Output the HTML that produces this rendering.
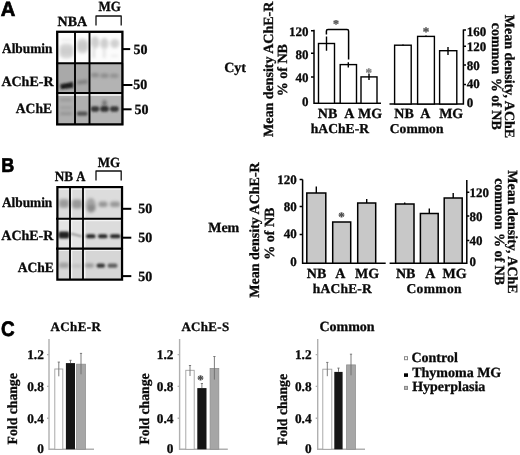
<!DOCTYPE html>
<html><head><meta charset="utf-8">
<style>
html,body{margin:0;padding:0;background:#fff;width:520px;height:455px;overflow:hidden}
svg{display:block;filter:blur(0.3px)}
text{font-family:"Liberation Serif",serif;font-weight:bold;fill:#0a0a0a;stroke:#0a0a0a;stroke-width:0.3px;text-rendering:geometricPrecision}
text.sans{font-family:"Liberation Sans",sans-serif;font-weight:bold;stroke:#000;stroke-width:0.7px;fill:#000}
.ax{stroke:#000;stroke-width:1.5;fill:none}
.bar{stroke:#000;stroke-width:1.4;fill:#fff}
.gbar{stroke:#000;stroke-width:1.5;fill:#c8c8c8}
.eb{stroke:#000;stroke-width:1.4}
.cax{stroke:#b0b0b0;stroke-width:1.4;fill:none}
</style></head><body>
<svg width="520" height="455" viewBox="0 0 520 455">
<defs>
<filter id="b1" x="-50%" y="-50%" width="200%" height="200%"><feGaussianBlur stdDeviation="1"/></filter>
<filter id="b15" x="-50%" y="-50%" width="200%" height="200%"><feGaussianBlur stdDeviation="1.4"/></filter>
<filter id="b2" x="-50%" y="-50%" width="200%" height="200%"><feGaussianBlur stdDeviation="2"/></filter>
</defs>
<text class="sans" transform="translate(0.7,15.6) scale(0.98,1)" font-size="20.6">A</text>
<text x="57.6" y="25.8" font-size="14" textLength="29.4" lengthAdjust="spacing">NBA</text>
<text x="98.6" y="10.5" font-size="14" textLength="22.4" lengthAdjust="spacingAndGlyphs">MG</text>
<path d="M96 25.5 V16 H121.2 V25.5" fill="none" stroke="#111" stroke-width="1.3" stroke-linejoin="round"/>
<!-- blot A -->
<g>
<rect x="56" y="30.5" width="67.5" height="33" fill="#fcfcfc"/>
<rect x="56" y="63" width="67.5" height="30" fill="#a9a9a9"/>
<rect x="90" y="63" width="33" height="30" fill="#b3b3b3"/>
<rect x="56" y="93" width="67.5" height="32" fill="#afafaf"/>
<rect x="90" y="93" width="33" height="32" fill="#b5b5b5"/>
<rect x="56" y="93" width="67.5" height="3" fill="#e6e6e6"/>
<g filter="url(#b15)">
<rect x="59.5" y="43.5" width="14" height="15" rx="5" fill="#d8d8d8"/>
<rect x="60.5" y="47" width="12" height="8" rx="3" fill="#cecece"/>
<rect x="61" y="38.8" width="11" height="1.8" fill="#e6e6e6"/>
<rect x="77" y="38.5" width="11" height="15" rx="5" fill="#d4d4d4"/>
<rect x="77.5" y="42" width="10" height="8" rx="3" fill="#c9c9c9"/>
<ellipse cx="95" cy="42.5" rx="4.2" ry="6.2" fill="#cfcfcf"/>
<ellipse cx="104.4" cy="43.6" rx="4" ry="5.8" fill="#cfcfcf"/>
<ellipse cx="114.8" cy="43.6" rx="4.5" ry="4.6" fill="#d1d1d1"/>
<rect x="92.5" y="46" width="2.5" height="12" fill="#dedede"/>
<rect x="103" y="47" width="2.5" height="11" fill="#e2e2e2"/>
<rect x="111" y="55" width="7" height="1.5" fill="#e6e6e6"/>
</g>
<g filter="url(#b15)">
<path d="M77 80.8 L87.5 79.6 L87.5 83.4 L77 84.6 Z" fill="#7e7e7e"/>
<rect x="91" y="73" width="8" height="4.2" rx="1.8" fill="#8c8c8c"/>
<rect x="100.5" y="73.6" width="8" height="4.2" rx="1.8" fill="#8c8c8c"/>
<rect x="110" y="73.8" width="8.5" height="4" rx="1.8" fill="#909090"/>
<rect x="60" y="98.6" width="12" height="2.6" rx="1" fill="#979797"/>
<rect x="60" y="106.5" width="12" height="2.4" rx="1" fill="#9c9c9c"/>
<rect x="60" y="112.2" width="12" height="2.8" rx="1" fill="#929292"/>
<ellipse cx="104.5" cy="103.3" rx="2.2" ry="3.2" fill="#707070"/>
</g>
<g filter="url(#b1)">
<path d="M60.3 84.2 L73 82 L73.3 87.8 L60.8 89.2 Z" fill="#1a1a1a"/>
<rect x="76.8" y="111.6" width="10.8" height="4.2" rx="1.8" fill="#555"/>
<rect x="90.8" y="106.3" width="8.4" height="5.4" rx="2.4" fill="#383838"/>
<rect x="100.3" y="106" width="8.4" height="5.8" rx="2.4" fill="#323232"/>
<rect x="110" y="106.3" width="8.7" height="5.4" rx="2.4" fill="#383838"/>
</g>
</g>
<path d="M75 31 V124.5 M89.5 31 V124.5" stroke="#000" stroke-width="1.9"/>
<path d="M56 63.2 H123 M56 93 H123" stroke="#000" stroke-width="2.1"/>
<rect x="57.2" y="31.8" width="65.2" height="92.6" fill="none" stroke="#000" stroke-width="2.3"/>


<text x="52.4" y="53.4" font-size="14" text-anchor="end" textLength="50.4" lengthAdjust="spacingAndGlyphs">Albumin</text>
<text x="53.5" y="85.8" font-size="14" text-anchor="end">AChE-R</text>
<text x="52" y="112.6" font-size="14" text-anchor="end" textLength="36.2" lengthAdjust="spacingAndGlyphs">AChE</text>
<rect x="123" y="48.1" width="7.2" height="2" fill="#000"/>
<rect x="123" y="84.0" width="9.4" height="2" fill="#000"/>
<rect x="123" y="108.3" width="8.6" height="2" fill="#000"/>
<text x="133.6" y="53.932" font-size="14">50</text>
<text x="133.3" y="89.432" font-size="14">50</text>
<text x="134.5" y="113.532" font-size="14">50</text>
<text x="224.2" y="71.7" font-size="14">Cyt</text>
<path d="M314 29.8 V103.3 H381" class="ax"/>
<path d="M311 30.7 H314 M311 53.3 H314 M311 77.1 H314" class="ax" stroke-width="1.2"/>
<text x="308.6" y="35.994" font-size="13" text-anchor="end">120</text>
<text x="308.6" y="58.794" font-size="13" text-anchor="end">80</text>
<text x="308.6" y="82.094" font-size="13" text-anchor="end">40</text>
<text x="308.6" y="106.394" font-size="13" text-anchor="end">0</text>
<rect x="318.5" y="43.5" width="16" height="59.8" class="bar"/>
<rect x="340.2" y="64.6" width="16.3" height="38.7" class="bar"/>
<rect x="361" y="76.9" width="16" height="26.4" class="bar"/>
<path d="M326.5 36.4 V50.7 M348.3 62.3 V67.6 M369 73.7 V79.9" class="eb"/>
<path d="M326.4 34.6 V31 Q326.4 29.4 328 29.4 H347 Q348.6 29.4 348.6 31 V59.5" class="ax" stroke-width="1.4"/>
<text x="336" y="27.60" font-size="12" text-anchor="middle" style="fill:#555;stroke:#555;stroke-width:0.3px">*</text>
<text x="368.8" y="76.80" font-size="13" text-anchor="middle" style="fill:#777;stroke:#777;stroke-width:0.3px">*</text>
<text x="327.6" y="117.6" font-size="14" text-anchor="middle">NB</text>
<text x="349.4" y="117.6" font-size="14" text-anchor="middle">A</text>
<text x="370.1" y="117.6" font-size="14" text-anchor="middle">MG</text>
<text x="310.7" y="133" font-size="13.6" textLength="58.4" lengthAdjust="spacing">hAChE-R</text>
<text transform="translate(273,69.3) rotate(-90)" font-size="14" text-anchor="middle">Mean density AChE-R</text>
<text transform="translate(286.6,70.2) rotate(-90)" font-size="14" text-anchor="middle">% of NB</text>
<path d="M389.5 104 H463.4 V29.6" class="ax"/>
<path d="M463.4 30.1 H466 M463.4 46.2 H466 M463.4 65.1 H466 M463.4 84.5 H466" class="ax" stroke-width="1.2"/>
<text x="466.8" y="36.394" font-size="13">160</text>
<text x="466.8" y="50.694" font-size="13">120</text>
<text x="466.8" y="69.894" font-size="13">80</text>
<text x="466.8" y="88.294" font-size="13">40</text>
<text x="466.8" y="106.794" font-size="13">0</text>
<rect x="394.6" y="45.2" width="16.6" height="58.8" class="bar"/>
<rect x="417.6" y="36.4" width="16.8" height="67.6" class="bar"/>
<rect x="439.6" y="50.7" width="17.2" height="53.3" class="bar"/>
<path d="M448 46.9 V55 M403 44.6 V45.6 M426 35.6 V37" class="eb"/>
<text x="426" y="35.80" font-size="13" text-anchor="middle" style="fill:#4a4a4a;stroke:#4a4a4a;stroke-width:0.3px">*</text>
<text x="404" y="117.8" font-size="14" text-anchor="middle">NB</text>
<text x="425.4" y="117.8" font-size="14" text-anchor="middle">A</text>
<text x="451.2" y="117.8" font-size="14" text-anchor="middle">MG</text>
<text x="389.8" y="133.3" font-size="13.5" textLength="53.6" lengthAdjust="spacing">Common</text>
<text transform="translate(505.3,76.5) rotate(90)" font-size="14" text-anchor="middle">Mean density, AChE</text>
<text transform="translate(492.3,76.3) rotate(90)" font-size="14" text-anchor="middle">common % of NB</text>
<text class="sans" transform="translate(1.2,172) scale(0.9,1)" font-size="20">B</text>
<text x="54.8" y="181.1" font-size="14" textLength="18.4" lengthAdjust="spacingAndGlyphs">NB</text>
<text x="76.2" y="181.1" font-size="14" textLength="9.2" lengthAdjust="spacingAndGlyphs">A</text>
<text x="97.7" y="167" font-size="14" textLength="22.4" lengthAdjust="spacingAndGlyphs">MG</text>
<path d="M96 180.5 V171 H121.2 V180.5" fill="none" stroke="#111" stroke-width="1.3" stroke-linejoin="round"/>
<!-- blot B -->
<g>
<rect x="56" y="186" width="67.5" height="33" fill="#dcdcdc"/>
<rect x="56" y="218" width="67.5" height="31" fill="#e4e4e4"/>
<rect x="83" y="218" width="40" height="31" fill="#dcdcdc"/>
<rect x="56" y="248" width="67.5" height="33" fill="#d6d6d6"/>
<g fill="#f4f4f4">
<rect x="58.5" y="188" width="11" height="1.8"/><rect x="71" y="188" width="11.5" height="1.8"/><rect x="84" y="188" width="37.5" height="1.8"/>
<rect x="58.5" y="219.6" width="11" height="1.6"/><rect x="71" y="219.6" width="11.5" height="1.6"/><rect x="84" y="219.6" width="37.5" height="1.6"/>
<rect x="58.5" y="249.6" width="11" height="1.4"/><rect x="71" y="249.6" width="11.5" height="1.4"/><rect x="84" y="249.6" width="37.5" height="1.4"/>
<rect x="84" y="188" width="1.5" height="92"/><rect x="71" y="188" width="1.3" height="92"/>
</g>
<g filter="url(#b15)">
<rect x="59" y="199" width="10" height="9" rx="3" fill="#a4a4a4"/>
<rect x="59.5" y="201" width="9" height="5" rx="2" fill="#9a9a9a"/>
<rect x="72" y="199.5" width="10" height="9" rx="3" fill="#9a9a9a"/>
<ellipse cx="90.8" cy="205.5" rx="5" ry="7.5" fill="#a4a4a4"/>
<ellipse cx="91.5" cy="208" rx="4" ry="3.5" fill="#8a8a8a"/>
<rect x="98.5" y="201.6" width="9" height="5.4" rx="2.5" fill="#959595"/>
<rect x="110" y="201.6" width="10" height="5.4" rx="2.5" fill="#989898"/>
<rect x="59" y="262.5" width="10" height="5.5" rx="2" fill="#a2a2a2"/>
<rect x="72" y="264.2" width="9.5" height="3.4" rx="1.7" fill="#bebebe"/>
<rect x="85" y="263.6" width="9" height="3.8" rx="1.8" fill="#969696"/>
</g>
<g filter="url(#b1)">
<rect x="58.5" y="231.4" width="11" height="7" rx="2" fill="#202020"/>
<path d="M71 232.8 L81.5 235.6 L81.5 237.3 L71 234.6 Z" fill="#8a8a8a"/>
<rect x="86" y="234.3" width="9.5" height="4" rx="2" fill="#262626"/>
<rect x="98" y="234.3" width="9.5" height="4" rx="2" fill="#262626"/>
<rect x="110" y="234.3" width="10.5" height="4" rx="2" fill="#262626"/>
<rect x="96.5" y="263.5" width="8.5" height="4.2" rx="2" fill="#383838"/>
<rect x="107.5" y="263.4" width="10" height="4.4" rx="2" fill="#5e5e5e"/>
</g>
</g>
<path d="M70 186.5 V280 M83 186.5 V280" stroke="#000" stroke-width="1.8"/>
<path d="M56 218.7 H123 M56 248.6 H123" stroke="#000" stroke-width="2.1"/>
<rect x="57.4" y="187.1" width="64.6" height="92.5" fill="none" stroke="#000" stroke-width="2.2"/>


<text x="52.3" y="207.2" font-size="14" text-anchor="end" textLength="50.4" lengthAdjust="spacingAndGlyphs">Albumin</text>
<text x="53.4" y="239.9" font-size="14" text-anchor="end">AChE-R</text>
<text x="53.9" y="272.1" font-size="14" text-anchor="end" textLength="36.2" lengthAdjust="spacingAndGlyphs">AChE</text>
<rect x="123" y="207.8" width="8.3" height="2" fill="#000"/>
<rect x="123" y="236.7" width="8.3" height="2" fill="#000"/>
<rect x="123" y="275.1" width="8.3" height="2" fill="#000"/>
<text x="138.2" y="213.132" font-size="14">50</text>
<text x="138.2" y="241.732" font-size="14">50</text>
<text x="138.2" y="280.932" font-size="14">50</text>
<text x="208.2" y="231.7" font-size="14">Mem</text>
<path d="M302.6 179.5 V263.2 H385.7" class="ax"/>
<path d="M299.6 179.6 H302.6 M299.6 206.5 H302.6 M299.6 234.5 H302.6" class="ax" stroke-width="1.2"/>
<text x="296.8" y="183.894" font-size="13" text-anchor="end">120</text>
<text x="296.8" y="210.894" font-size="13" text-anchor="end">80</text>
<text x="296.8" y="237.794" font-size="13" text-anchor="end">40</text>
<text x="296.8" y="265.794" font-size="13" text-anchor="end">0</text>
<rect x="306.8" y="193" width="19" height="70.2" class="gbar"/>
<rect x="332.7" y="222" width="18" height="41.2" class="gbar"/>
<rect x="357.7" y="203" width="18" height="60.2" class="gbar"/>
<path d="M316.3 186.5 V193 M366.7 199 V203" class="eb"/>
<text x="341.4" y="221.20" font-size="13" text-anchor="middle" style="fill:#444;stroke:#444;stroke-width:0.3px">*</text>
<text x="316.5" y="277.6" font-size="14" text-anchor="middle">NB</text>
<text x="340.4" y="277.6" font-size="14" text-anchor="middle">A</text>
<text x="367" y="277.6" font-size="14" text-anchor="middle">MG</text>
<text x="312.8" y="292.9" font-size="13.5" textLength="59" lengthAdjust="spacing">hAChE-R</text>
<text transform="translate(259,230) rotate(-90)" font-size="14" text-anchor="middle">Mean density AChE-R</text>
<text transform="translate(274,233.6) rotate(-90)" font-size="14" text-anchor="middle">% of NB</text>
<path d="M389.6 263.2 H466.8 V180" class="ax"/>
<path d="M466.8 192.2 H469.3 M466.8 216.1 H469.3 M466.8 240.5 H469.3" class="ax" stroke-width="1.2"/>
<text x="469.4" y="196.994" font-size="13">120</text>
<text x="469.4" y="220.594" font-size="13">80</text>
<text x="469.4" y="244.794" font-size="13">40</text>
<text x="469.4" y="266.194" font-size="13">0</text>
<rect x="395.6" y="204" width="18.4" height="59.2" class="gbar"/>
<rect x="420.4" y="213.5" width="17.8" height="49.7" class="gbar"/>
<rect x="444.2" y="198" width="18" height="65.2" class="gbar"/>
<path d="M404.7 202.5 V204 M429.3 208.4 V213.5 M453.2 193 V198" class="eb"/>
<text x="405.7" y="277.6" font-size="14" text-anchor="middle">NB</text>
<text x="430.2" y="277.6" font-size="14" text-anchor="middle">A</text>
<text x="454.6" y="277.6" font-size="14" text-anchor="middle">MG</text>
<text x="406.5" y="292.9" font-size="13.5" textLength="55" lengthAdjust="spacing">Common</text>
<text transform="translate(508.3,232) rotate(90)" font-size="14" text-anchor="middle">Mean density, AChE</text>
<text transform="translate(495,231.6) rotate(90)" font-size="14" text-anchor="middle">common % of NB</text>
<text class="sans" transform="translate(0.9,336.1) scale(0.9,1)" font-size="21">C</text>
<text x="50.6" y="331.2" font-size="13" textLength="50.2" lengthAdjust="spacing">AChE-R</text>
<path d="M49.0 339 V449.3 H94" class="cax"/>
<path d="M47.0 354.6 H49.0 M47.0 386.4 H49.0 M47.0 418.2 H49.0" class="cax"/>
<text x="43.8" y="359.295" font-size="13.3" text-anchor="end">1.2</text>
<text x="43.8" y="390.995" font-size="13.3" text-anchor="end">0.8</text>
<text x="43.8" y="423.095" font-size="13.3" text-anchor="end">0.4</text>
<text x="43.8" y="453.495" font-size="13.3" text-anchor="end">0</text>
<rect x="54.8" y="369" width="8" height="80.3" fill="#fff" stroke="#a0a0a0" stroke-width="0.9"/>
<rect x="65.9" y="363.1" width="9.1" height="86.2" fill="#151515"/>
<rect x="76.6" y="364.2" width="8.8" height="85.1" fill="#a6a6a6" stroke="#909090" stroke-width="0.8"/>
<path d="M58.8 362.1 V376.3 M57.699999999999996 362.1 H59.9 M70.5 360.3 V363.1 M69.4 360.3 H71.6 M81 353.4 V374.3 M79.9 353.4 H82.1" stroke="#6e6e6e" stroke-width="0.9"/>
<text transform="translate(17.2,408.8) rotate(-90)" font-size="14" text-anchor="middle" textLength="71.2" lengthAdjust="spacingAndGlyphs">Fold change</text>
<text x="181.4" y="331.2" font-size="13" textLength="47.8" lengthAdjust="spacing">AChE-S</text>
<path d="M179.6 339 V449.3 H227.8" class="cax"/>
<path d="M177.6 354.6 H179.6 M177.6 386.4 H179.6 M177.6 418.2 H179.6" class="cax"/>
<text x="173.4" y="359.295" font-size="13.3" text-anchor="end">1.2</text>
<text x="173.4" y="390.995" font-size="13.3" text-anchor="end">0.8</text>
<text x="173.4" y="423.095" font-size="13.3" text-anchor="end">0.4</text>
<text x="173.4" y="453.495" font-size="13.3" text-anchor="end">0</text>
<rect x="185.8" y="370.3" width="8.4" height="79" fill="#fff" stroke="#a0a0a0" stroke-width="0.9"/>
<rect x="197.3" y="388.1" width="9.2" height="61.2" fill="#151515"/>
<rect x="210.1" y="368.4" width="8.7" height="80.9" fill="#a6a6a6" stroke="#909090" stroke-width="0.8"/>
<path d="M190 365.5 V376 M188.9 365.5 H191.1 M201.9 383.5 V388.1 M200.8 383.5 H203.0 M214.4 356.5 V379.6 M213.3 356.5 H215.5" stroke="#6e6e6e" stroke-width="0.9"/>
<text transform="translate(149.4,409) rotate(-90)" font-size="14" text-anchor="middle" textLength="71.2" lengthAdjust="spacingAndGlyphs">Fold change</text>
<text x="200.6" y="384.20" font-size="13" text-anchor="middle" style="fill:#444;stroke:#444;stroke-width:0.3px">*</text>
<text x="319.4" y="331.2" font-size="14">Common</text>
<path d="M317.7 339 V449.3 H365" class="cax"/>
<path d="M315.7 354.6 H317.7 M315.7 386.4 H317.7 M315.7 418.2 H317.7" class="cax"/>
<text x="311.6" y="359.295" font-size="13.3" text-anchor="end">1.2</text>
<text x="311.6" y="390.995" font-size="13.3" text-anchor="end">0.8</text>
<text x="311.6" y="423.095" font-size="13.3" text-anchor="end">0.4</text>
<text x="311.6" y="453.495" font-size="13.3" text-anchor="end">0</text>
<rect x="322.8" y="369.2" width="9" height="80.1" fill="#fff" stroke="#a0a0a0" stroke-width="0.9"/>
<rect x="334.3" y="371.9" width="8.3" height="77.4" fill="#151515"/>
<rect x="346.6" y="364.9" width="8.8" height="84.4" fill="#a6a6a6" stroke="#909090" stroke-width="0.8"/>
<path d="M327.3 362.4 V376.2 M326.2 362.4 H328.40000000000003 M338.5 368.1 V371.9 M337.4 368.1 H339.6 M351 354.2 V375.3 M349.9 354.2 H352.1" stroke="#6e6e6e" stroke-width="0.9"/>
<text transform="translate(287.1,409.6) rotate(-90)" font-size="14" text-anchor="middle" textLength="71.2" lengthAdjust="spacingAndGlyphs">Fold change</text>
<rect x="404.5" y="356.7" width="3" height="3" fill="#fff" stroke="#888" stroke-width="1"/>
<rect x="404" y="373.3" width="4" height="3.6" fill="#000"/>
<rect x="404.5" y="386.4" width="3" height="3" fill="#bbb" stroke="#888" stroke-width="1"/>
<text x="411.4" y="362.3" font-size="14">Control</text>
<text x="412.2" y="376.9" font-size="14">Thymoma MG</text>
<text x="412.2" y="390.7" font-size="14">Hyperplasia</text>
</svg>
</body></html>
